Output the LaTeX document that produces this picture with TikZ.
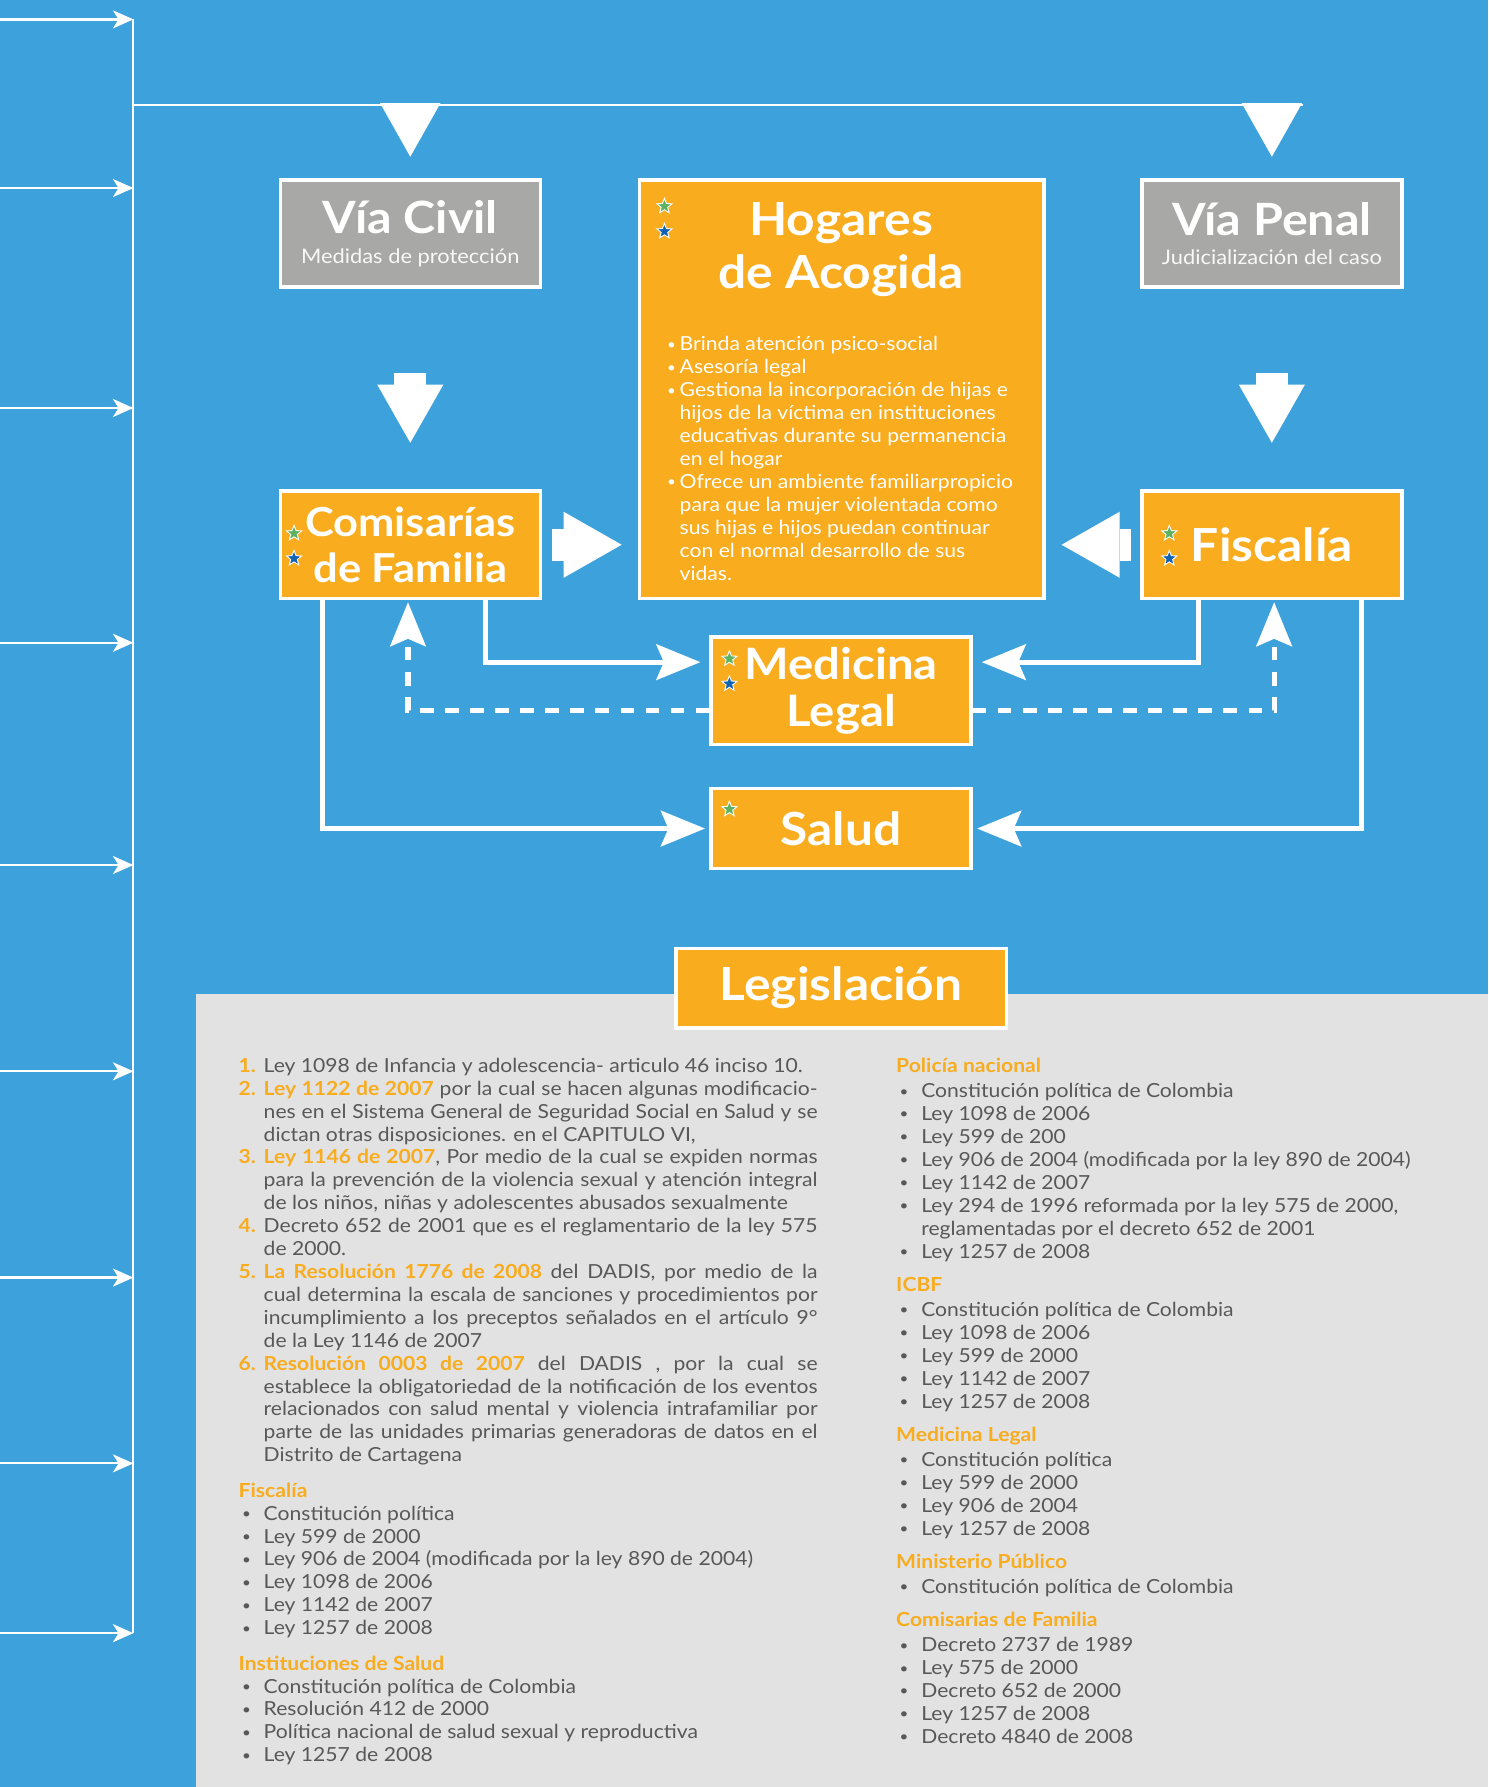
\documentclass[tikz,border=0pt]{standalone}
\usepackage{fontspec}
\usepackage{graphicx}
\setmainfont{Lato}[FakeStretch=1.09]
\usetikzlibrary{arrows.meta,shapes.geometric}
\definecolor{azulf}{RGB}{61,162,220}
\definecolor{naranjo}{RGB}{248,172,30}
\definecolor{grisc}{RGB}{168,168,166}
\definecolor{panelc}{RGB}{226,226,226}
\definecolor{textoc}{RGB}{88,88,88}
\definecolor{verdee}{RGB}{92,178,96}
\definecolor{azule}{RGB}{16,98,178}
\newlength{\anchocol}
\setlength{\anchocol}{243pt}
\newcommand{\tit}[1]{{\color{naranjo}\bfseries #1}}
\newcommand{\lj}[1]{\makebox[\anchocol][s]{#1}}
\newcommand{\num}[1]{\makebox[11pt][l]{\tit{#1}}}
\newcommand{\punto}{\raisebox{0.7pt}{\scalebox{0.72}{•}}}
\newcommand{\vin}{\makebox[11pt][l]{\hspace{1.5pt}\punto}}
\newcommand{\sig}{\hspace*{11pt}}
\newcommand{\vinh}{\makebox[6.5pt][l]{\hspace{1pt}\punto}}
\begin{document}
\begin{tikzpicture}[x=0.5pt,y=-0.5pt,
  caja/.style={draw=white,line width=1.5pt,inner sep=0pt,minimum width=114pt,minimum height=47pt,text=white,align=center},
  cajagris/.style={caja,fill=grisc},
  cajanaranja/.style={caja,fill=naranjo,font=\fontsize{17.5}{20}\selectfont\bfseries},
  estrella/.style={star,star points=5,star point ratio=2.3,minimum size=7pt,inner sep=0pt,draw=white,line width=0.4pt},
  lista/.style={inner sep=0pt,align=left,font=\fontsize{8.5}{10.05}\selectfont},
  flechita/.style={draw=white,line width=1pt,-{Stealth[length=9pt,width=8pt,inset=2.5pt,line width=0pt]}},
  triangulo/.style={draw=white,line width=1pt,shorten >=9.5pt,-{Triangle[length=23.5pt,width=26.5pt,line width=0pt]}},
  bloque/.style={draw=white,line width=14pt,-{Triangle[length=25.5pt,width=29pt,line width=0pt]}},
  flecha/.style={draw=white,line width=2.2pt,-{Stealth[length=19.5pt,width=16pt,inset=3.5pt,line width=0pt]}},
  punteada/.style={flecha,dash pattern=on 6pt off 5pt}]
\path[use as bounding box,fill=azulf] (0,0) rectangle (1306,1568);
\fill[panelc] (172,872) rectangle (1306,1568);

% barras de la izquierda
\draw[white,line width=1pt] (117,17) -- (117,1433);
\coordinate (barra) at (117,92);
\draw[white,line width=1pt] (barra) -- (1143,92);
\foreach \y in {17,165,358,564,759,940,1121,1284,1433}
  \draw[flechita] (0,\y) -- (117,\y);

% cajas
\node[cajagris] (civil) at (360,205) {{\fontsize{19.5}{21}\selectfont\bfseries Vía Civil}\\[1pt]{\fontsize{8.8}{10}\selectfont\color{white!92!grisc}Medidas de protección}};
\node[cajagris] (penal) at (1116,205) {{\fontsize{19.5}{21}\selectfont\bfseries Vía Penal}\\[1pt]{\fontsize{8.8}{10}\selectfont\color{white!92!grisc}Judicialización del caso}};
\node[cajanaranja,minimum width=177.5pt,minimum height=183.5pt] (hogares) at (738.5,341.5) {};
\node[text=white,align=center,font=\fontsize{20}{23}\selectfont\bfseries] (hogtit) at (738,219) {Hogares\\de Acogida};
\node[lista,text=white,anchor=north west] (hoglista) at (583,295) {%
\vinh Brinda atención psico-social\\
\vinh Asesoría legal\\
\vinh Gestiona la incorporación de hijas e\\
\hspace*{6.5pt}hijos de la víctima en instituciones\\
\hspace*{6.5pt}educativas durante su permanencia\\
\hspace*{6.5pt}en el hogar\\
\vinh Ofrece un ambiente familiarpropicio\\
\hspace*{6.5pt}para que la mujer violentada como\\
\hspace*{6.5pt}sus hijas e hijos puedan continuar\\
\hspace*{6.5pt}con el normal desarrollo de sus\\
\hspace*{6.5pt}vidas.};
\node[cajanaranja] (comisarias) at (360,478) {Comisarías\\de Familia};
\node[cajanaranja,font=\fontsize{20}{22}\selectfont\bfseries] (fiscalia) at (1116,478) {Fiscalía};
\node[cajanaranja,font=\fontsize{19}{20.5}\selectfont\bfseries] (medicina) at (738,606) {Medicina\\Legal};
\node[cajanaranja,minimum height=35pt,font=\fontsize{20}{22}\selectfont\bfseries] (salud) at (738,727) {Salud};
\node[cajanaranja,minimum width=145pt,minimum height=35pt,font=\fontsize{20}{22}\selectfont\bfseries] (legis) at (738,867) {Legislación};

% estrellas
\node[estrella,fill=verdee] (hogv) at (583,181) {};
\node[estrella,fill=azule] (hoga) at (583,203) {};
\node[estrella,fill=verdee] (comv) at (258,468) {};
\node[estrella,fill=azule] (coma) at (258,490) {};
\node[estrella,fill=verdee] (fisv) at (1026,468) {};
\node[estrella,fill=azule] (fisa) at (1026,490) {};
\node[estrella,fill=verdee] (medv) at (640,578) {};
\node[estrella,fill=azule] (meda) at (640,600) {};
\node[estrella,fill=verdee] (salv) at (640,710) {};

% flechas
\draw[triangulo] (civil.north |- barra) -- (civil.north);
\draw[triangulo] (penal.north |- barra) -- (penal.north);
\draw[bloque,shorten <=37pt,shorten >=20.5pt] (civil.south) -- (comisarias.north);
\draw[bloque,shorten <=37pt,shorten >=20.5pt] (penal.south) -- (fiscalia.north);
\draw[bloque,shorten <=4.5pt,shorten >=7pt] (comisarias.east) -- (comisarias.east -| hogares.west);
\draw[bloque,shorten <=4pt,shorten >=7pt] (fiscalia.west) -- (fiscalia.west -| hogares.east);
\draw[flecha,shorten >=4pt] ([xshift=33pt]comisarias.south) |- ([yshift=12.5pt]medicina.west);
\draw[flecha,shorten >=2pt] ([xshift=-38.5pt]comisarias.south) |- (salud.west);
\draw[flecha,shorten >=4pt] ([xshift=-32pt]fiscalia.south) |- ([yshift=12.5pt]medicina.east);
\draw[flecha,shorten >=2pt] ([xshift=39.5pt]fiscalia.south) |- (salud.east);
\draw[punteada,shorten >=1pt] ([yshift=-8.5pt]medicina.west) -| ([xshift=-1pt]comisarias.south);
\draw[punteada,shorten >=1pt] ([yshift=-8.5pt]medicina.east) -| ([xshift=1pt]fiscalia.south);

% legislacion
\node[lista,text=textoc,anchor=north west] (colizq) at (209,928) {%
\num{1.}Ley 1098 de Infancia y adolescencia- articulo 46 inciso 10.\\
\num{2.}\lj{\tit{Ley 1122 de 2007} por la cual se hacen algunas modificacio-}\\
\sig\lj{nes en el Sistema General de Seguridad Social en Salud y se}\\
\sig dictan otras disposiciones. en el CAPITULO VI,\\
\num{3.}\lj{\tit{Ley 1146 de 2007}, Por medio de la cual se expiden normas}\\
\sig\lj{para la prevención de la violencia sexual y atención integral}\\
\sig de los niños, niñas y adolescentes abusados sexualmente\\
\num{4.}\lj{Decreto 652 de 2001 que es el reglamentario de la ley 575}\\
\sig de 2000.\\
\num{5.}\lj{\tit{La Resolución 1776 de 2008} del DADIS, por medio de la}\\
\sig\lj{cual determina la escala de sanciones y procedimientos por}\\
\sig\lj{incumplimiento a los preceptos señalados en el artículo 9°}\\
\sig de la Ley 1146 de 2007\\
\num{6.}\lj{\tit{Resolución 0003 de 2007} del DADIS , por la cual se}\\
\sig\lj{establece la obligatoriedad de la notificación de los eventos}\\
\sig\lj{relacionados con salud mental y violencia intrafamiliar por}\\
\sig\lj{parte de las unidades primarias generadoras de datos en el}\\
\sig Distrito de Cartagena\\[5.5pt]
\tit{Fiscalía}\\
\vin Constitución política\\
\vin Ley 599 de 2000\\
\vin Ley 906 de 2004 (modificada por la ley 890 de 2004)\\
\vin Ley 1098 de 2006\\
\vin Ley 1142 de 2007\\
\vin Ley 1257 de 2008\\[5.5pt]
\tit{Instituciones de Salud}\\
\vin Constitución política de Colombia\\
\vin Resolución 412 de 2000\\
\vin Política nacional de salud sexual y reproductiva\\
\vin Ley 1257 de 2008};
\node[lista,text=textoc,anchor=north west] (colder) at (786,928) {%
\tit{Policía nacional}\\[1pt]
\vin Constitución política de Colombia\\
\vin Ley 1098 de 2006\\
\vin Ley 599 de 200\\
\vin Ley 906 de 2004 (modificada por la ley 890 de 2004)\\
\vin Ley 1142 de 2007\\
\vin Ley 294 de 1996 reformada por la ley 575 de 2000,\\
\sig reglamentadas por el decreto 652 de 2001\\
\vin Ley 1257 de 2008\\[4.5pt]
\tit{ICBF}\\[1pt]
\vin Constitución política de Colombia\\
\vin Ley 1098 de 2006\\
\vin Ley 599 de 2000\\
\vin Ley 1142 de 2007\\
\vin Ley 1257 de 2008\\[4.5pt]
\tit{Medicina Legal}\\[1pt]
\vin Constitución política\\
\vin Ley 599 de 2000\\
\vin Ley 906 de 2004\\
\vin Ley 1257 de 2008\\[4.5pt]
\tit{Ministerio Público}\\[1pt]
\vin Constitución política de Colombia\\[4.5pt]
\tit{Comisarias de Familia}\\[1pt]
\vin Decreto 2737 de 1989\\
\vin Ley 575 de 2000\\
\vin Decreto 652 de 2000\\
\vin Ley 1257 de 2008\\
\vin Decreto 4840 de 2008};
\end{tikzpicture}
\end{document}
